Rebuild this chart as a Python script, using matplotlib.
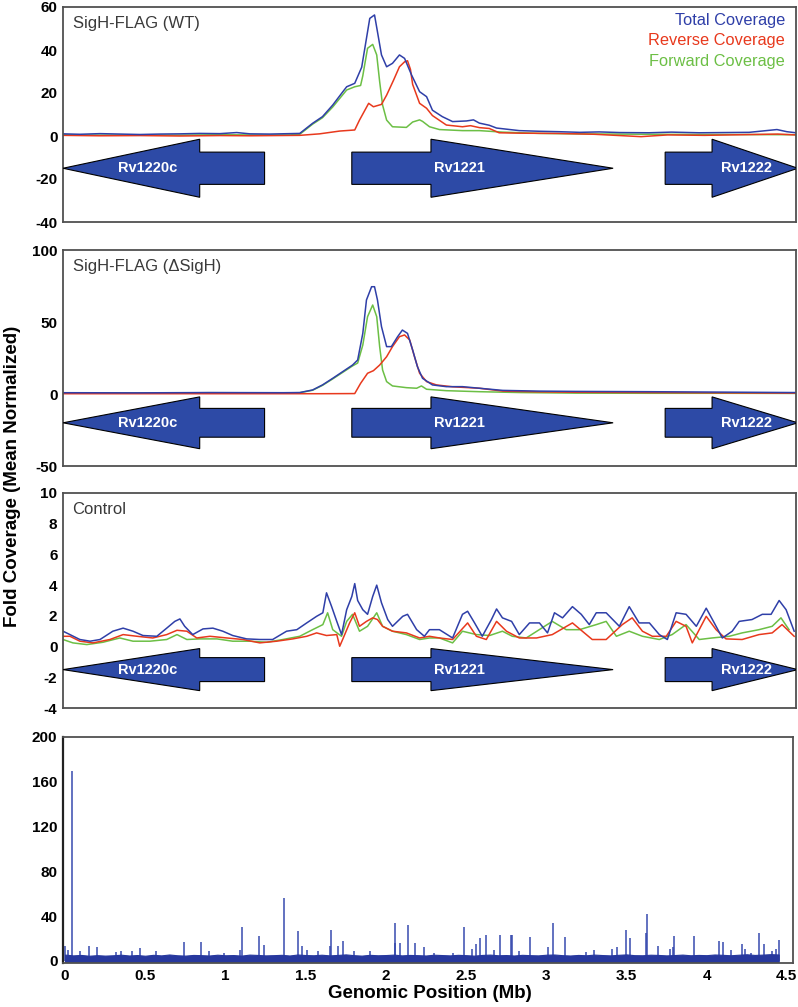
import numpy as np
import matplotlib
matplotlib.use("Agg")
import matplotlib.pyplot as plt
from matplotlib.patches import Polygon

plt.rcParams["font.family"] = ["Liberation Sans", "DejaVu Sans"]
plt.rcParams["axes.unicode_minus"] = False

# ── gene annotation (window position, bp) ────────────────────────────────
gene_names = ["Rv1220c", "Rv1221", "Rv1222"]
gene_start = [0, 788, 1643]
gene_end = [550, 1501, 2005]
gene_strand = [-1, 1, 1]
gene_head = [373, 497, 234]
gene_label_x = [232, 1082, 1864]

# ── SigH-FLAG (WT) ────────────────────────────────────────────────────────
wt_tot_x = [0, 46, 101, 155, 210, 264, 319, 373, 428, 474, 510, 564, 619, 646, 681, 708, 736, 760, 774, 796,
            815, 828, 837, 850, 858, 869, 883, 899, 918, 932, 951, 973, 992, 1008, 1035, 1063, 1101, 1120, 1136, 1163,
            1183, 1245, 1300, 1354, 1410, 1463, 1520, 1599, 1660, 1736, 1800, 1872, 1948, 1975, 2000]
wt_tot_y = [1.0, 0.8, 1.1, 0.9, 0.7, 0.9, 1.0, 1.2, 1.1, 1.6, 1.0, 0.9, 1.1, 1.2, 5.9, 9.0, 14.4, 19.8, 22.9, 24.5,
            32.0, 45.4, 54.7, 56.3, 48.5, 37.7, 32.2, 33.8, 37.7, 36.1, 28.4, 20.6, 18.3, 12.0, 9.0, 6.7, 7.0, 7.5, 6.0, 5.0,
            3.7, 2.5, 2.2, 2.0, 1.7, 1.9, 1.6, 1.5, 1.8, 1.5, 1.6, 1.7, 3.0, 2.0, 1.5]
wt_rev_x = [0, 101, 210, 319, 428, 510, 646, 700, 755, 796, 809, 834, 847, 869, 883, 902, 918, 932, 940, 948,
            954, 973, 992, 1008, 1046, 1090, 1112, 1136, 1163, 1190, 1250, 1350, 1450, 1577, 1650, 1750, 1850, 1950, 2000]
wt_rev_y = [0.3, 0.1, 0.2, 0.0, 0.2, 0.1, 0.3, 1.0, 2.3, 2.8, 7.4, 15.2, 13.6, 14.7, 19.0, 26.0, 32.2, 34.5, 35.0, 31.0,
            24.0, 15.2, 12.9, 9.5, 5.1, 4.3, 4.8, 3.9, 3.5, 1.5, 1.3, 1.2, 0.8, -0.3, 0.5, 0.3, 0.6, 0.9, 0.5]
wt_fwd_x = [0, 101, 210, 319, 428, 510, 619, 646, 681, 708, 736, 760, 774, 796, 812, 818, 823, 831, 845, 856,
            864, 872, 883, 899, 937, 954, 973, 981, 1000, 1027, 1090, 1136, 1200, 1300, 1400, 1600, 1800, 2000]
wt_fwd_y = [0.6, 0.4, 0.5, 0.4, 0.6, 0.5, 0.5, 0.8, 5.5, 8.5, 13.5, 18.5, 21.4, 22.9, 23.5, 28.0, 33.0, 40.8, 42.6, 37.7,
            25.3, 14.4, 7.4, 4.3, 4.0, 6.5, 7.5, 6.8, 4.3, 3.0, 2.5, 2.5, 1.8, 1.2, 1.0, 0.8, 0.7, 0.6]

# ── SigH-FLAG (ΔSigH) ─────────────────────────────────────────────────────
dl_tot_x = [0, 200, 400, 600, 646, 681, 708, 736, 763, 790, 804, 818, 828, 842, 850, 858, 869, 883, 896, 913,
            926, 940, 954, 967, 981, 1008, 1046, 1090, 1136, 1200, 1300, 1400, 1600, 1800, 2000]
dl_tot_y = [0.9, 0.8, 1.0, 0.9, 1.0, 2.8, 6.3, 10.9, 15.5, 20.1, 23.6, 42.1, 65.3, 74.5, 74.5, 65.3, 46.8, 32.9, 32.9, 39.8,
            44.4, 42.1, 30.6, 19.0, 10.9, 6.3, 5.1, 5.1, 4.0, 2.5, 2.0, 1.8, 1.6, 1.3, 1.0]
dl_rev_x = [0, 400, 700, 796, 812, 831, 847, 864, 883, 899, 918, 932, 946, 959, 973, 992, 1019, 1063, 1136, 1200,
            1300, 1400, 1600, 1800, 2000]
dl_rev_y = [0.2, 0.2, 0.2, 0.3, 7.4, 14.4, 16.2, 20.1, 25.9, 32.9, 39.8, 41.0, 37.5, 25.9, 14.4, 8.6, 6.3, 5.0, 4.0, 2.0,
            1.5, 1.2, 1.0, 0.8, 0.6]
dl_fwd_x = [0, 200, 400, 600, 646, 681, 708, 736, 763, 790, 804, 818, 831, 845, 856, 864, 872, 883, 899, 937,
            965, 978, 992, 1046, 1136, 1250, 1400, 1600, 1800, 2000]
dl_fwd_y = [0.8, 0.7, 0.9, 0.8, 0.9, 2.6, 6.0, 10.5, 15.0, 19.5, 21.5, 34.0, 53.7, 61.8, 53.7, 32.9, 16.7, 8.6, 5.6, 4.4,
            4.0, 5.6, 3.3, 2.3, 1.6, 1.0, 0.6, 0.5, 0.5, 0.4]

# ── Control ───────────────────────────────────────────────────────────────
ct_tot_x = [0, 19, 46, 74, 101, 136, 164, 191, 218, 256, 283, 305, 319, 332, 354, 382, 409, 436, 463, 501,
            537, 572, 610, 638, 665, 692, 709, 719, 733, 747, 760, 774, 788, 796, 804, 818, 831, 845, 856, 869,
            886, 899, 927, 940, 965, 986, 1000, 1027, 1063, 1090, 1104, 1123, 1144, 1169, 1183, 1199, 1224, 1245, 1273, 1300,
            1322, 1341, 1363, 1390, 1414, 1436, 1455, 1482, 1518, 1545, 1572, 1600, 1627, 1649, 1673, 1700, 1728, 1755, 1777, 1799,
            1826, 1845, 1880, 1908, 1932, 1954, 1973, 1995]
ct_tot_y = [1.0, 0.78, 0.46, 0.35, 0.46, 1.0, 1.2, 1.0, 0.72, 0.67, 1.2, 1.64, 1.8, 1.32, 0.78, 1.15, 1.2, 1.0, 0.72, 0.5,
            0.46, 0.46, 1.0, 1.1, 1.54, 1.97, 2.2, 3.5, 2.6, 1.64, 0.78, 2.4, 3.26, 4.1, 3.0, 2.4, 2.1, 3.26, 4.0, 2.85,
            1.76, 1.32, 1.97, 2.1, 1.1, 0.67, 1.1, 1.1, 0.56, 2.1, 2.3, 1.54, 0.67, 1.76, 2.45, 1.87, 1.64, 0.78, 1.54, 1.54,
            0.89, 2.2, 1.87, 2.6, 2.1, 1.43, 2.2, 2.2, 1.32, 2.6, 1.54, 1.54, 0.78, 0.46, 2.2, 2.1, 1.32, 2.5, 1.54, 0.56,
            1.0, 1.64, 1.76, 2.1, 2.1, 3.0, 2.4, 1.0]
ct_rev_x = [0, 19, 46, 82, 128, 164, 202, 245, 283, 311, 338, 365, 401, 447, 491, 537, 583, 627, 665, 692,
            719, 747, 755, 763, 782, 796, 809, 828, 845, 858, 872, 899, 937, 973, 1000, 1027, 1063, 1104, 1128, 1155,
            1183, 1210, 1245, 1292, 1335, 1390, 1428, 1444, 1482, 1526, 1553, 1581, 1608, 1646, 1673, 1700, 1717, 1755, 1782, 1809,
            1853, 1899, 1935, 1962, 1995]
ct_rev_y = [0.67, 0.67, 0.35, 0.24, 0.46, 0.78, 0.67, 0.56, 0.78, 1.06, 1.0, 0.56, 0.67, 0.56, 0.46, 0.24, 0.35, 0.5, 0.67, 0.89,
            0.72, 0.78, 0.02, 0.46, 1.54, 2.2, 1.32, 1.64, 1.87, 1.76, 1.32, 1.0, 0.89, 0.56, 0.67, 0.56, 0.46, 1.54, 0.67, 0.46,
            1.64, 1.0, 0.56, 0.56, 0.78, 1.54, 0.78, 0.46, 0.46, 1.43, 1.87, 1.0, 0.67, 0.67, 1.64, 1.32, 0.24, 1.97, 1.1, 0.5,
            0.46, 0.78, 0.89, 1.43, 0.67]
ct_fwd_x = [0, 27, 65, 109, 155, 191, 237, 283, 311, 338, 373, 420, 463, 510, 556, 600, 646, 681, 709, 722,
            736, 760, 774, 790, 809, 831, 856, 872, 899, 937, 973, 1000, 1027, 1063, 1090, 1128, 1164, 1199, 1226, 1264,
            1335, 1373, 1409, 1455, 1482, 1510, 1545, 1581, 1627, 1662, 1700, 1736, 1771, 1818, 1853, 1899, 1935, 1959, 1981]
ct_fwd_y = [0.46, 0.24, 0.13, 0.28, 0.56, 0.35, 0.35, 0.46, 0.78, 0.46, 0.5, 0.5, 0.35, 0.35, 0.28, 0.46, 0.67, 1.1, 1.43, 2.2,
            1.1, 0.67, 1.64, 2.1, 1.0, 1.32, 2.2, 1.32, 1.0, 0.78, 0.46, 0.56, 0.56, 0.24, 1.0, 0.78, 0.72, 1.0, 0.67, 0.56,
            1.64, 1.1, 1.1, 1.43, 1.64, 0.67, 1.0, 0.67, 0.46, 0.78, 1.43, 0.46, 0.56, 0.67, 0.89, 1.1, 1.32, 1.87, 1.1]

# ── genome-wide coverage (Mb) ─────────────────────────────────────────────
spike_mb = [0.0, 0.02, 0.042, 0.094, 0.15, 0.20, 0.32, 0.35, 0.42, 0.47, 0.57, 0.74, 0.85, 0.90, 0.99, 1.09, 1.105, 1.21, 1.24, 1.365,
            1.455, 1.475, 1.51, 1.58, 1.65, 1.66, 1.705, 1.735, 1.80, 1.90, 2.055, 2.06, 2.09, 2.137, 2.18, 2.24, 2.30, 2.42, 2.49, 2.535,
            2.56, 2.59, 2.625, 2.675, 2.715, 2.78, 2.79, 2.83, 2.90, 3.01, 3.045, 3.12, 3.25, 3.30, 3.41, 3.44, 3.50, 3.52, 3.62, 3.63,
            3.70, 3.77, 3.79, 3.80, 3.92, 4.08, 4.10, 4.155, 4.22, 4.24, 4.28, 4.33, 4.36, 4.405, 4.43, 4.45]
spike_h = [12.8, 9.8, 170, 8.6, 13.6, 12.5, 7.7, 9.0, 9.0, 11.3, 8.6, 16.6, 16.6, 8.6, 7.0, 9.8, 30, 21.7, 14.3, 56,
           26.2, 13.6, 10, 9, 13.6, 27.7, 13, 17.4, 8.6, 9, 16, 33.7, 15.8, 31.6, 15.8, 12, 7.2, 7.2, 29.8, 10.9,
           15.4, 20.6, 22.9, 9.5, 22.9, 22.9, 22.9, 8.9, 21.5, 12, 33.7, 21.5, 8, 9.5, 10.1, 12, 27.7, 20.6, 24.5, 42,
           13.2, 10.9, 12.5, 22, 22, 17.8, 16.9, 9.5, 14.8, 10.1, 7.2, 24.5, 15.4, 8.9, 10.1, 19]
base_mb = np.round(np.arange(0, 4.451, 0.05), 2)
base_hi = [5.5, 4.8, 5.2, 4.5, 5.0, 4.6, 4.9, 5.4, 4.7, 5.1,
           4.5, 5.3, 4.8, 5.6, 4.9, 4.6, 5.2, 5.0, 4.7, 5.4,
           4.9, 5.1, 4.6, 5.5, 5.2, 4.8, 5.0, 5.3, 4.7, 5.6,
           5.1, 4.9, 5.4, 4.8, 5.2, 5.7, 5.0, 4.6, 5.3, 4.9,
           5.1, 5.5, 4.8, 5.2, 5.0, 4.7, 5.4, 5.1, 4.8, 5.3,
           5.0, 4.6, 5.2, 5.5, 4.9, 5.1, 4.7, 5.3, 5.0, 4.8,
           5.4, 5.6, 5.0, 4.7, 5.2, 4.9, 5.5, 5.1, 4.8, 5.3,
           5.7, 5.0, 4.9, 5.4, 5.2, 4.8, 5.1, 5.5, 4.9, 5.2,
           5.0, 5.6, 5.3, 4.9, 5.4, 5.8, 5.2, 5.5, 5.9, 5.6]

BLUE = "#2f3fa8"
RED = "#e8391d"
GREEN = "#6cbf45"
ARROW = "#2d4aa6"
SPINE = "#505050"


def px_axes(left, top, right, bottom):
    return fig.add_axes([left / 798, 1 - bottom / 1007, (right - left) / 798, (bottom - top) / 1007])


def style(ax):
    for sp in ax.spines.values():
        sp.set_edgecolor(SPINE)
        sp.set_linewidth(1.3)
    ax.tick_params(axis="both", length=0, pad=4, labelsize=11)
    for lab in ax.get_yticklabels() + ax.get_xticklabels():
        lab.set_fontweight("bold")


def draw_genes(ax, center, body, head):
    for name, s, e, strand, hl, lx in zip(gene_names, gene_start, gene_end, gene_strand, gene_head, gene_label_x):
        if strand > 0:
            hb = e - hl
            pts = [(s, center - body), (hb, center - body), (hb, center - head), (e, center),
                   (hb, center + head), (hb, center + body), (s, center + body)]
        else:
            hb = s + hl
            pts = [(e, center - body), (hb, center - body), (hb, center - head), (s, center),
                   (hb, center + head), (hb, center + body), (e, center + body)]
        ax.add_patch(Polygon(pts, closed=True, facecolor=ARROW, edgecolor="black", lw=0.8, zorder=3))
        ax.text(lx, center, name, color="white", fontsize=10.5, fontweight="bold",
                ha="center", va="center", zorder=4)


fig = plt.figure(figsize=(7.98, 10.07), dpi=100, facecolor="white")

panels = [
    (7, 222, "SigH-FLAG (WT)", (wt_tot_x, wt_tot_y), (wt_rev_x, wt_rev_y), (wt_fwd_x, wt_fwd_y),
     (-40, 60), [-40, -20, 0, 20, 40, 60], (-15, 7.5, 13.5)),
    (250, 466, "SigH-FLAG (\u0394SigH)", (dl_tot_x, dl_tot_y), (dl_rev_x, dl_rev_y), (dl_fwd_x, dl_fwd_y),
     (-50, 100), [-50, 0, 50, 100], (-20, 10, 18)),
    (493, 708, "Control", (ct_tot_x, ct_tot_y), (ct_rev_x, ct_rev_y), (ct_fwd_x, ct_fwd_y),
     (-4, 10), [-4, -2, 0, 2, 4, 6, 8, 10], (-1.5, 0.78, 1.37)),
]

for i, (top, bot, title, tot, rev, fwd, ylim, yt, arrow) in enumerate(panels):
    ax = px_axes(63, top, 796, bot)
    ax.plot(*fwd, color=GREEN, lw=1.1, zorder=2)
    ax.plot(*rev, color=RED, lw=1.1, zorder=2)
    ax.plot(*tot, color=BLUE, lw=1.1, zorder=2.5)
    draw_genes(ax, *arrow)
    ax.set_xlim(0, 2000)
    ax.set_ylim(*ylim)
    ax.set_yticks(yt)
    ax.set_xticks([])
    ax.text(0.013, 0.925, title, transform=ax.transAxes, fontsize=12, color="#3a3a3a",
            ha="left", va="center")
    if i == 0:
        for txt, col, yy in [("Total Coverage", BLUE, 0.935), ("Reverse Coverage", RED, 0.842),
                             ("Forward Coverage", GREEN, 0.746)]:
            ax.text(0.985, yy, txt, transform=ax.transAxes, fontsize=11.8, color=col,
                    ha="right", va="center")
    style(ax)

# ── genome-wide panel ─────────────────────────────────────────────────────
ax4 = px_axes(63, 737, 793, 963)
ax4.fill_between(base_mb, -1.0, base_hi, color="#27389e", lw=0.8, zorder=2)
ax4.vlines(spike_mb, 0, spike_h, color="#3346ad", lw=1.2, alpha=0.9, zorder=1)
ax4.set_xlim(-0.0125, 4.539)
ax4.set_ylim(-2, 200)
ax4.set_yticks([0, 40, 80, 120, 160, 200])
ax4.set_xticks([0, 0.5, 1, 1.5, 2, 2.5, 3, 3.5, 4, 4.5])
ax4.set_xticklabels(["0", "0.5", "1", "1.5", "2", "2.5", "3", "3.5", "4", "4.5"])
style(ax4)
ax4.spines["left"].set_edgecolor("#222222")
ax4.spines["left"].set_linewidth(1.6)

fig.text(430 / 798, 1 - 993 / 1007, "Genomic Position (Mb)", fontsize=13.5, fontweight="bold",
         ha="center", va="center")
fig.text(13 / 798, 1 - 476 / 1007, "Fold Coverage (Mean Normalized)", fontsize=13.5, fontweight="bold",
         ha="center", va="center", rotation=90)

fig.savefig("out.png", dpi=100, facecolor="white")
plt.close(fig)
